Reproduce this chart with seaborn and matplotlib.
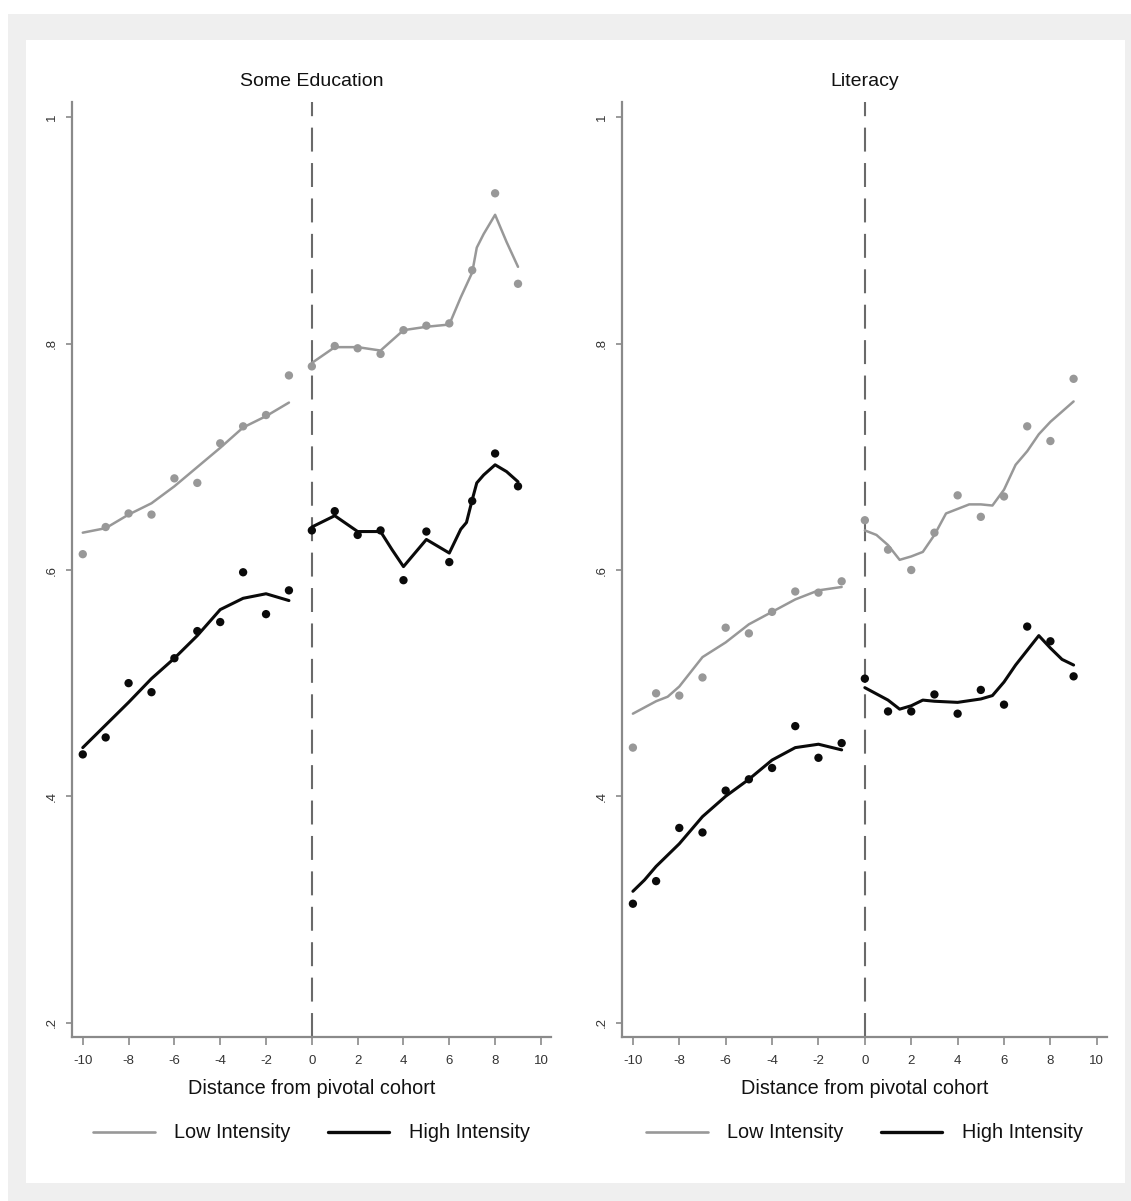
import numpy as np
import pandas as pd
import matplotlib
matplotlib.use("Agg")
import matplotlib.pyplot as plt
import seaborn as sns
from matplotlib import font_manager as fm
from matplotlib.patches import Rectangle
from matplotlib.lines import Line2D

# ---------------- data ----------------
cohort = list(range(-10, 10))

edu_low = [0.614, 0.638, 0.650, 0.649, 0.681, 0.677, 0.712, 0.727, 0.737, 0.772,
           0.780, 0.798, 0.796, 0.791, 0.812, 0.816, 0.818, 0.865, 0.933, 0.853]
edu_high = [0.437, 0.452, 0.500, 0.492, 0.522, 0.546, 0.554, 0.598, 0.561, 0.582,
            0.635, 0.652, 0.631, 0.635, 0.591, 0.634, 0.607, 0.661, 0.703, 0.674]
lit_low = [0.443, 0.491, 0.489, 0.505, 0.549, 0.544, 0.563, 0.581, 0.580, 0.590,
           0.644, 0.618, 0.600, 0.633, 0.666, 0.647, 0.665, 0.727, 0.714, 0.769]
lit_high = [0.305, 0.325, 0.372, 0.368, 0.405, 0.415, 0.425, 0.462, 0.434, 0.447,
            0.504, 0.475, 0.475, 0.490, 0.473, 0.494, 0.481, 0.550, 0.537, 0.506]

# smoothed (local polynomial) curves, pre and post cutoff
edu_low_fit_pre_x = [-10, -9, -8, -7, -6, -5, -4, -3, -2, -1]
edu_low_fit_pre = [0.633, 0.637, 0.649, 0.659, 0.674, 0.691, 0.708, 0.726, 0.736, 0.748]
edu_low_fit_post_x = [0, 1, 2, 3, 4, 5, 6, 6.5, 7, 7.2, 7.5, 8, 8.5, 9]
edu_low_fit_post = [0.783, 0.797, 0.797, 0.794, 0.812, 0.815, 0.817, 0.841, 0.863, 0.885,
                    0.897, 0.914, 0.890, 0.868]

edu_high_fit_pre_x = [-10, -9, -8, -7, -6, -5, -4, -3, -2, -1]
edu_high_fit_pre = [0.443, 0.463, 0.483, 0.504, 0.522, 0.542, 0.565, 0.575, 0.579, 0.573]
edu_high_fit_post_x = [0, 1, 2, 3, 3.5, 4, 5, 6, 6.5, 6.75, 7, 7.2, 7.5, 8, 8.5, 9]
edu_high_fit_post = [0.638, 0.648, 0.634, 0.634, 0.618, 0.603, 0.627, 0.615, 0.636, 0.642,
                     0.662, 0.677, 0.684, 0.693, 0.687, 0.678]

lit_low_fit_pre_x = [-10, -9, -8.5, -8, -7, -6, -5, -4, -3, -2, -1]
lit_low_fit_pre = [0.473, 0.484, 0.488, 0.497, 0.523, 0.536, 0.552, 0.563, 0.574, 0.582, 0.585]
lit_low_fit_post_x = [0, 0.5, 1, 1.5, 2, 2.5, 3, 3.5, 4, 4.5, 5, 5.5, 6, 6.5, 7, 7.5, 8, 8.5, 9]
lit_low_fit_post = [0.635, 0.631, 0.622, 0.609, 0.612, 0.616, 0.631, 0.650, 0.654, 0.658,
                    0.658, 0.657, 0.671, 0.693, 0.705, 0.720, 0.731, 0.740, 0.749]

lit_high_fit_pre_x = [-10, -9.5, -9, -8, -7, -6, -5, -4, -3, -2, -1]
lit_high_fit_pre = [0.316, 0.326, 0.338, 0.358, 0.382, 0.400, 0.415, 0.432, 0.443, 0.446, 0.441]
lit_high_fit_post_x = [0, 1, 1.5, 2, 2.5, 3, 4, 5, 5.5, 6, 6.5, 7, 7.5, 8, 8.5, 9]
lit_high_fit_post = [0.496, 0.485, 0.477, 0.480, 0.485, 0.484, 0.483, 0.486, 0.489, 0.501,
                     0.516, 0.529, 0.542, 0.531, 0.521, 0.516]

panels = ["Some Education", "Literacy"]
series = ["Low Intensity", "High Intensity"]
x_ticks = [-10, -8, -6, -4, -2, 0, 2, 4, 6, 8, 10]
x_tick_labels = ["-10", "-8", "-6", "-4", "-2", "0", "2", "4", "6", "8", "10"]
y_ticks = [0.2, 0.4, 0.6, 0.8, 1.0]
y_tick_labels = [".2", ".4", ".6", ".8", "1"]
x_title = "Distance from pivotal cohort"

# ---------------- tables ----------------
pts = []
for p, lo, hi in [(panels[0], edu_low, edu_high), (panels[1], lit_low, lit_high)]:
    for s, vals in [(series[0], lo), (series[1], hi)]:
        for xv, yv in zip(cohort, vals):
            pts.append((p, s, xv, yv))
pts = pd.DataFrame(pts, columns=["panel", "series", "x", "y"])

fits = []
fit_src = [
    (panels[0], series[0], edu_low_fit_pre_x, edu_low_fit_pre, edu_low_fit_post_x, edu_low_fit_post),
    (panels[0], series[1], edu_high_fit_pre_x, edu_high_fit_pre, edu_high_fit_post_x, edu_high_fit_post),
    (panels[1], series[0], lit_low_fit_pre_x, lit_low_fit_pre, lit_low_fit_post_x, lit_low_fit_post),
    (panels[1], series[1], lit_high_fit_pre_x, lit_high_fit_pre, lit_high_fit_post_x, lit_high_fit_post),
]
for p, s, xa, ya, xb, yb in fit_src:
    for xv, yv in zip(xa, ya):
        fits.append((p, s, "pre", xv, yv))
    for xv, yv in zip(xb, yb):
        fits.append((p, s, "post", xv, yv))
fits = pd.DataFrame(fits, columns=["panel", "series", "side", "x", "y"])

# ---------------- style ----------------
sns.set_style("ticks")
avail = {f.name for f in fm.fontManager.ttflist}
if "Liberation Sans Narrow" in avail:
    fam = ["Liberation Sans Narrow", "DejaVu Sans"]
    scale = 1.15
else:
    fam = ["Liberation Sans", "DejaVu Sans"]
    scale = 1.0
plt.rcParams["font.family"] = fam

GREY = "#989898"
BLACK = "#0a0a0a"
AXC = "#8a8a8a"
palette = {series[0]: GREY, series[1]: BLACK}
lws = {series[0]: 1.8, series[1]: 2.2}

W, H = 1131, 1201
fig = plt.figure(figsize=(W / 100, H / 100), dpi=100, facecolor="white")

# Stata-like background frames
fig.patches.append(Rectangle((8 / W, 0), 1 - 8 / W, (H - 14) / H, transform=fig.transFigure,
                             facecolor="#efefef", edgecolor="none", zorder=-10))
fig.patches.append(Rectangle((26 / W, (H - 1183) / H), (1125 - 26) / W, (1183 - 40) / H,
                             transform=fig.transFigure, facecolor="white", edgecolor="none", zorder=-9))

ax_px = [(72, 551), (622, 1107)]
top_px, bot_px = 102, 1037
for i, p in enumerate(panels):
    x0, x1 = ax_px[i]
    ax = fig.add_axes([x0 / W, (H - bot_px) / H, (x1 - x0) / W, (bot_px - top_px) / H])
    ax.set_facecolor("none")

    ax.axvline(0, color="#6a6a6a", lw=1.5, dashes=(11.5, 5.5), zorder=1)

    for s in series:
        for side in ["pre", "post"]:
            d = fits[(fits.panel == p) & (fits.series == s) & (fits.side == side)]
            sns.lineplot(data=d, x="x", y="y", color=palette[s], lw=lws[s],
                         estimator=None, sort=False, ax=ax, zorder=3)
    dp = pts[pts.panel == p]
    sns.scatterplot(data=dp, x="x", y="y", hue="series", palette=palette, s=36,
                    linewidth=0, legend=False, ax=ax, zorder=4)

    ax.set_xlim(-10.47, 10.44)
    ax.set_ylim(0.1872, 1.0137)
    ax.set_xticks(x_ticks)
    ax.set_xticklabels(x_tick_labels, fontsize=9.5 * scale, color="#333333")
    ax.set_yticks(y_ticks)
    ax.set_yticklabels(y_tick_labels, fontsize=9.5 * scale, color="#333333",
                       rotation=90, va="center")
    ax.tick_params(axis="x", length=6, width=1.2, color=AXC, pad=7)
    ax.tick_params(axis="y", length=4, width=1.2, color=AXC, pad=6)
    for sp in ["top", "right"]:
        ax.spines[sp].set_visible(False)
    for sp in ["left", "bottom"]:
        ax.spines[sp].set_color(AXC)
        ax.spines[sp].set_linewidth(1.6)
    ax.set_xlabel("")
    ax.set_ylabel("")

    ax.text(0.5, (bot_px - 82) / (bot_px - top_px), p, transform=ax.transAxes,
            ha="center", va="center", fontsize=14 * scale, color="#111111")
    ax.text(0.5, -(1088 - bot_px) / (bot_px - top_px), x_title, transform=ax.transAxes,
            ha="center", va="center", fontsize=14.3 * scale, color="#111111")

    handles = [Line2D([], [], color=GREY, lw=1.9), Line2D([], [], color=BLACK, lw=2.4)]
    ax.legend(handles, series, loc="center", ncol=2, frameon=False,
              bbox_to_anchor=(0.5, -(1133 - bot_px) / (bot_px - top_px)),
              fontsize=14.3 * scale, handlelength=3.1, handletextpad=1.0,
              columnspacing=1.85, labelcolor="#111111")

fig.savefig("out.png", dpi=100, facecolor="white")
